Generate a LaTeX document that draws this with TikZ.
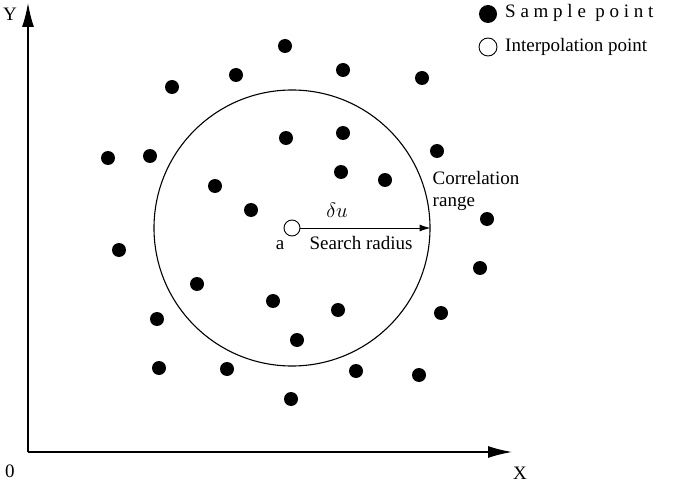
\documentclass[tikz,border=0pt]{standalone}
\usepackage{fontspec}
\setmainfont{Liberation Serif}
\usetikzlibrary{arrows.meta}
\begin{document}
\begin{tikzpicture}[x=1pt,y=-1pt,
  dot/.style={circle,fill=black,inner sep=0pt,minimum size=14pt},
  lbl/.style={font=\fontsize{19}{22}\selectfont,inner sep=1pt},
  axis/.style={line width=1.4pt,-{Latex[length=24pt,width=12pt]}}]
\useasboundingbox (0,0) rectangle (685,481);
\coordinate (o) at (28,452);
\coordinate (ytip) at (28,3);
\coordinate (xtip) at (512,452);
\draw[axis] (o) -- (ytip);
\draw[axis] (o) -- (xtip);
\node[lbl] (zero) at (10,471) {0};
\node[lbl] (xl) at (520,473) {X};
\node[lbl] (yl) at (10,14) {Y};
\node[circle,draw,line width=1.1pt,minimum size=276pt,inner sep=0pt] (range) at (292,228) {};
\foreach \x/\y [count=\i] in {285/46,236/75,343/70,422/78,172/87,286/138,343/133,437/151,108/158,150/156,215/186,341/172,385/180,251/210,487/219,119/250,480/268,197/284,273/301,338/310,441/313,157/319,297/340,159/368,227/369,356/371,419/375,291/399}
  \node[dot] (d\i) at (\x,\y) {};
\node[circle,draw,line width=0.9pt,fill=white,minimum size=16pt,inner sep=0pt] (a) at (292,228) {};
\draw[line width=0.9pt,-{Latex[length=11pt,width=7pt]}] (a.east) -- (range.east);
\node[lbl,font=\fontsize{22}{24}\selectfont] (du) at (337,210) {$\delta u$};
\node[lbl] (al) at (280,245) {a};
\node[lbl] (sr) at (361,243) {Search radius};
\node[lbl,align=left] (cr) at (476,191) {Correlation\\range};
\node[dot,minimum size=18pt] (ld) at (488,14) {};
\node[lbl,anchor=west] (lt1) at (504,13) {S a m p l e\ \ p o i n t};
\node[circle,draw,line width=0.9pt,minimum size=18pt,inner sep=0pt] (lo) at (488,47) {};
\node[lbl,anchor=west] (lt2) at (504,47) {Interpolation point};
\end{tikzpicture}
\end{document}
